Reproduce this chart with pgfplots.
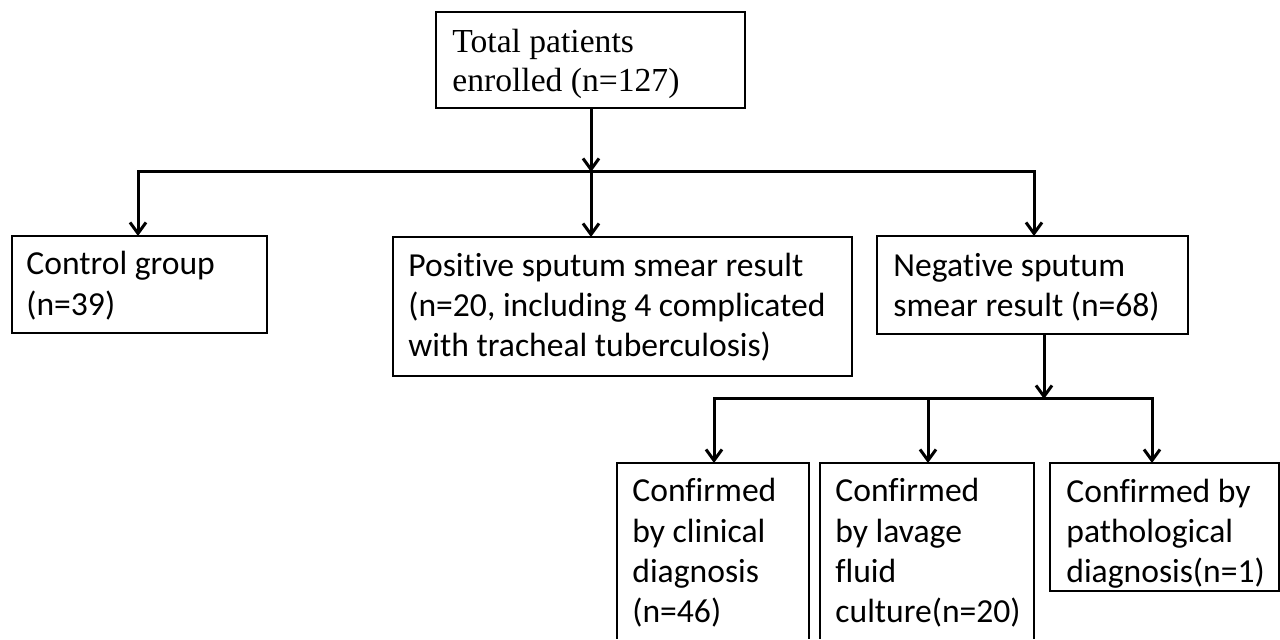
\documentclass[border=0pt]{standalone}
\usepackage{pgfplots}
\pgfplotsset{compat=1.18}
\usepackage{fontspec}
\setmainfont{Carlito}[Ligatures=NoCommon]
\newfontfamily\tnr{Liberation Serif}
\usetikzlibrary{arrows.meta}
\newcommand\ff{\fontsize{16.8}{20}\selectfont}
\newcommand\tl[3]{\node[anchor=base west,inner sep=0pt,font=\ff] at (axis cs:#1,#2) {#3};}
\begin{document}
\begin{tikzpicture}
\begin{axis}[
  width=640pt, height=319.5pt, scale only axis,
  xmin=0, xmax=1280, ymin=0, ymax=639, y dir=reverse,
  axis lines=none, clip=false,
  every axis plot/.style={black, mark=none, line join=miter},
]
\path (axis cs:0,0) rectangle (axis cs:1280,639);
% boxes
\addplot[line width=1pt] coordinates {(436,12)(745,12)(745,108)(436,108)} --cycle;
\addplot[line width=1pt] coordinates {(12,236)(267,236)(267,333)(12,333)} --cycle;
\addplot[line width=1pt] coordinates {(393,237)(852,237)(852,376)(393,376)} --cycle;
\addplot[line width=1pt] coordinates {(877,236)(1188,236)(1188,334)(877,334)} --cycle;
\addplot[line width=1pt] coordinates {(617,639)(617,463)(809,463)(809,639)};
\addplot[line width=1pt] coordinates {(820,639)(820,463)(1034,463)(1034,639)};
\addplot[line width=1pt] coordinates {(1050,463)(1279,463)(1279,591)(1050,591)} --cycle;
% connectors
\addplot[line width=1.5pt, -{Straight Barb[length=5.5pt,width=8pt]}] coordinates {(591,108)(591,172)};
\addplot[line width=1.5pt, {Straight Barb[length=5.5pt,width=8pt]}-{Straight Barb[length=5.5pt,width=8pt]}] coordinates {(138,236)(138,172)(1034,172)(1034,236)};
\addplot[line width=1.5pt, -{Straight Barb[length=5.5pt,width=8pt]}] coordinates {(591,172)(591,237)};
\addplot[line width=1.5pt, -{Straight Barb[length=5.5pt,width=8pt]}] coordinates {(1044,334)(1044,399)};
\addplot[line width=1.5pt, {Straight Barb[length=5.5pt,width=8pt]}-{Straight Barb[length=5.5pt,width=8pt]}] coordinates {(714,463)(714,399)(1152,399)(1152,463)};
\addplot[line width=1.5pt, -{Straight Barb[length=5.5pt,width=8pt]}] coordinates {(928,399)(928,463)};
% texts
\node[anchor=base west,inner sep=0pt,font=\ff\tnr] at (axis cs:452,53) {Total patients};
\node[anchor=base west,inner sep=0pt,font=\ff\tnr] at (axis cs:452,92) {enrolled (n=127)};
\tl{26}{275}{Control group}
\tl{26}{316}{(n=39)}
\tl{408}{277}{Positive sputum smear result}
\tl{408}{317}{(n=20, including 4 complicated}
\tl{408}{357}{with tracheal tuberculosis)}
\tl{893}{277}{Negative sputum}
\tl{893}{317}{smear result (n=68)}
\tl{632}{502}{Confirmed}
\tl{632}{543}{by clinical}
\tl{632}{583}{diagnosis}
\tl{632}{623}{(n=46)}
\tl{835}{502}{Confirmed}
\tl{835}{543}{by lavage}
\tl{835}{583}{fluid}
\tl{835}{623}{culture(n=20)}
\tl{1066}{503}{Confirmed by}
\tl{1066}{543}{pathological}
\tl{1066}{583}{diagnosis(n=1)}
\end{axis}
\end{tikzpicture}
\end{document}
